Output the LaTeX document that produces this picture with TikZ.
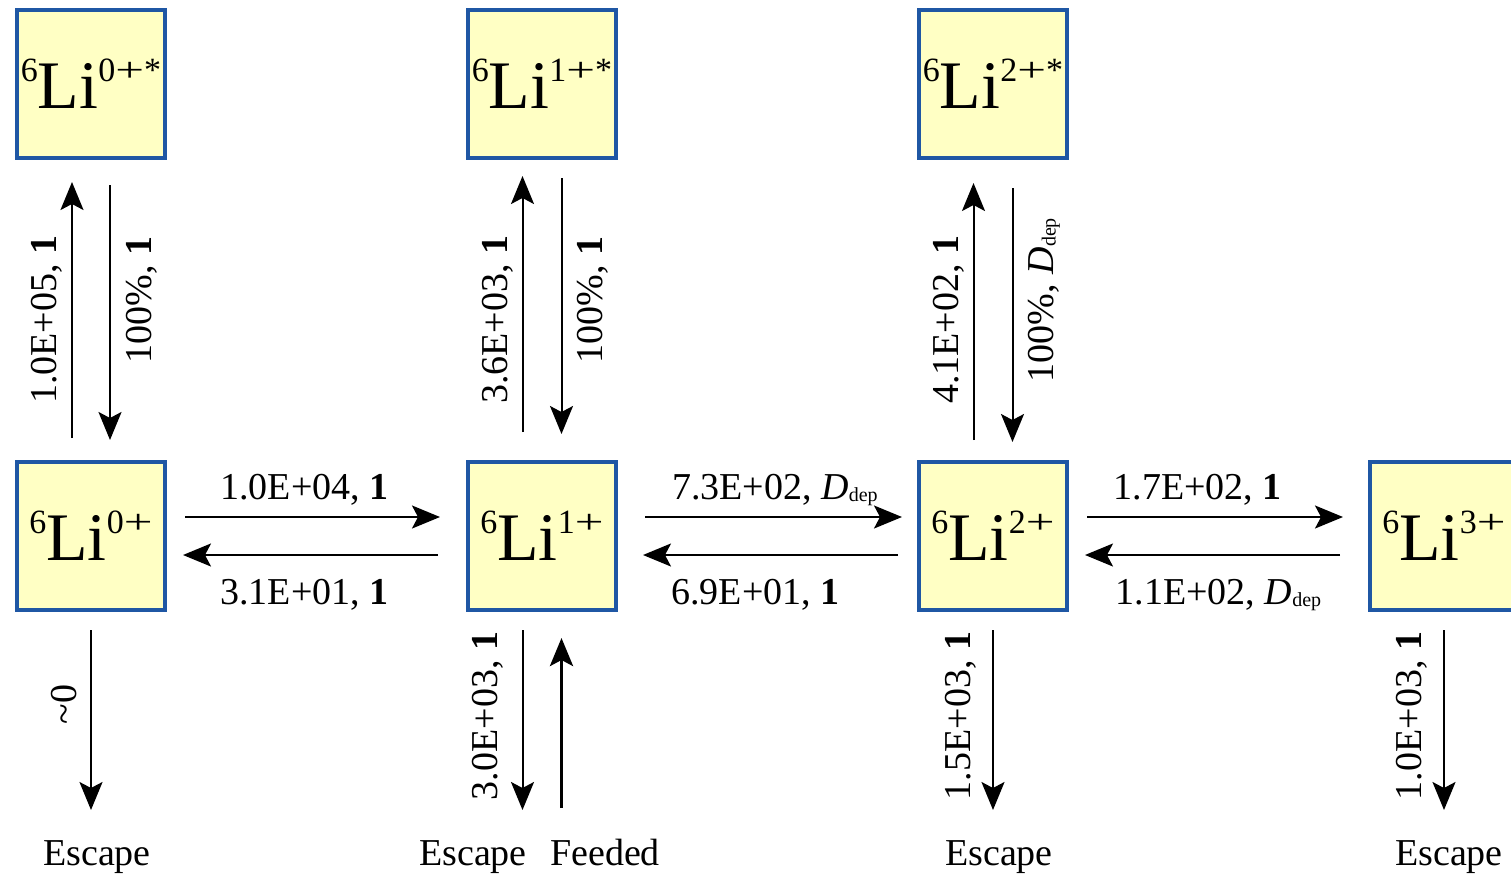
\documentclass[tikz,border=0pt]{standalone}
\usepackage{fontspec}
\setmainfont{Liberation Serif}
\usepackage{tikz}
\usetikzlibrary{arrows.meta,positioning}
\definecolor{edge}{HTML}{1F57A4}
\definecolor{pale}{HTML}{FFFFC4}
\newcommand{\lion}[2]{\raisebox{13.5pt}{\fontsize{17}{17}\selectfont 6}Li\raisebox{13.5pt}{\fontsize{17}{17}\selectfont #1\scalebox{1.5}[1]{+}#2}}
\newcommand{\Ddep}{\textit{D}\raisebox{-1pt}{\fontsize{10}{10}\selectfont dep}}

\begin{document}
\begin{tikzpicture}[
  node distance=150pt and 149.5pt,
  ion/.style={draw=edge,line width=2pt,fill=pale,minimum size=74pt,inner sep=0pt,font=\fontsize{34}{34}\selectfont},
  lbl/.style={font=\fontsize{19}{22}\selectfont,inner sep=0pt,text height=13.3pt,text depth=4.75pt},
  arr/.style={-{Stealth[length=14pt,width=11.5pt,inset=3pt]},line width=1pt},
  feed/.style={arr,line width=1.75pt}
]
\useasboundingbox (0,0) rectangle (755.5pt,-437pt);
\clip (0,0) rectangle (755.5pt,-437pt);
% ground states
\node[ion] (g0) at (45.5pt,-268pt) {\lion{0}{}};
\node[ion,right=of g0] (g1) {\lion{1}{}};
\node[ion,right=of g1] (g2) {\lion{2}{}};
\node[ion,right=of g2] (g3) {\lion{3}{}};
% excited states
\node[ion,above=of g0] (e0) {\lion{0}{*}};
\node[ion,above=of g1] (e1) {\lion{1}{*}};
\node[ion,above=of g2] (e2) {\lion{2}{*}};
% bottom texts
\node[lbl,below=113pt of g0,xshift=3pt] (esc0) {Escape};
\node[lbl,below=113pt of g1,xshift=-34.5pt] (esc1) {Escape};
\node[lbl,below=113pt of g1,xshift=31.5pt] (feed1) {Feeded};
\node[lbl,below=113pt of g2,xshift=3pt] (esc2) {Escape};
\node[lbl,below=113pt of g3,xshift=2.5pt] (esc3) {Escape};
\coordinate (d1) at ([xshift=-9.75pt]g1.south);
\coordinate (u1) at ([xshift=9.75pt]g1.south);

% excitation and decay
\draw[arr,shorten <=11pt,shorten >=11pt] ([xshift=-9.5pt]g0.north) -- node[lbl,pos=0.467,xshift=-2.5pt,rotate=90,anchor=south] {1.0E+05, \textbf{1}} ([xshift=-9.5pt]e0.south);
\draw[arr,shorten <=12.5pt,shorten >=10pt] ([xshift=9.5pt]e0.south) -- node[lbl,pos=0.467,xshift=6.75pt,rotate=90,anchor=north] {100\%, \textbf{1}} ([xshift=9.5pt]g0.north);
\draw[arr,shorten <=14pt,shorten >=8pt] ([xshift=-9.75pt]g1.north) -- node[lbl,pos=0.467,xshift=-2.5pt,rotate=90,anchor=south] {3.6E+03, \textbf{1}} ([xshift=-9.75pt]e1.south);
\draw[arr,shorten <=9pt,shorten >=13pt] ([xshift=9.75pt]e1.south) -- node[lbl,pos=0.467,xshift=6.75pt,rotate=90,anchor=north] {100\%, \textbf{1}} ([xshift=9.75pt]g1.north);
\draw[arr,shorten <=10pt,shorten >=11.5pt] ([xshift=-9.75pt]g2.north) -- node[lbl,pos=0.467,xshift=-2.5pt,rotate=90,anchor=south] {4.1E+02, \textbf{1}} ([xshift=-9.75pt]e2.south);
\draw[arr,shorten <=14pt,shorten >=9pt] ([xshift=9.75pt]e2.south) -- node[lbl,pos=0.467,xshift=6.75pt,rotate=90,anchor=north] {100\%, \Ddep} ([xshift=9.75pt]g2.north);

% ionisation and recombination
\draw[arr,shorten <=9pt,shorten >=13pt] ([yshift=9.5pt]g0.east) -- node[lbl,pos=0.46,above=3.5pt] {1.0E+04, \textbf{1}} ([yshift=9.5pt]g1.west);
\draw[arr,shorten <=14pt,shorten >=8pt] ([yshift=-9.5pt]g1.west) -- node[lbl,pos=0.54,below=10.7pt] {3.1E+01, \textbf{1}} ([yshift=-9.5pt]g0.east);
\draw[arr,shorten <=13.5pt,shorten >=7.5pt] ([yshift=9.5pt]g1.east) -- node[lbl,pos=0.525,above=3.5pt] {7.3E+02, \Ddep} ([yshift=9.5pt]g2.west);
\draw[arr,shorten <=9.5pt,shorten >=12.5pt] ([yshift=-9.5pt]g2.west) -- node[lbl,pos=0.54,below=10.7pt] {6.9E+01, \textbf{1}} ([yshift=-9.5pt]g1.east);
\draw[arr,shorten <=9pt,shorten >=12.5pt] ([yshift=9.5pt]g2.east) -- node[lbl,pos=0.43,above=3.5pt] {1.7E+02, \textbf{1}} ([yshift=9.5pt]g3.west);
\draw[arr,shorten <=14pt,shorten >=8pt] ([yshift=-9.5pt]g3.west) -- node[lbl,pos=0.5,below=10.7pt] {1.1E+02, \Ddep} ([yshift=-9.5pt]g2.east);

% escape and feeding
\draw[arr,shorten <=9pt,shorten >=14pt] (g0.south) -- node[lbl,pos=0.41,xshift=-2pt,rotate=90,anchor=south] {\textasciitilde0} (g0.south |- esc0.north);
\draw[arr,shorten <=9pt,shorten >=14pt] (d1) -- node[lbl,pos=0.46,xshift=-7.5pt,rotate=90,anchor=south] {3.0E+03, \textbf{1}} (d1 |- esc1.north);
\draw[feed,shorten <=15pt,shorten >=13pt] (u1 |- feed1.north) -- (u1);
\draw[arr,shorten <=9pt,shorten >=14pt] (g2.south) -- node[lbl,pos=0.46,xshift=-6pt,rotate=90,anchor=south] {1.5E+03, \textbf{1}} (g2.south |- esc2.north);
\draw[arr,shorten <=9pt,shorten >=14pt] (g3.south) -- node[lbl,pos=0.46,xshift=-6pt,rotate=90,anchor=south] {1.0E+03, \textbf{1}} (g3.south |- esc3.north);
\end{tikzpicture}
\end{document}
